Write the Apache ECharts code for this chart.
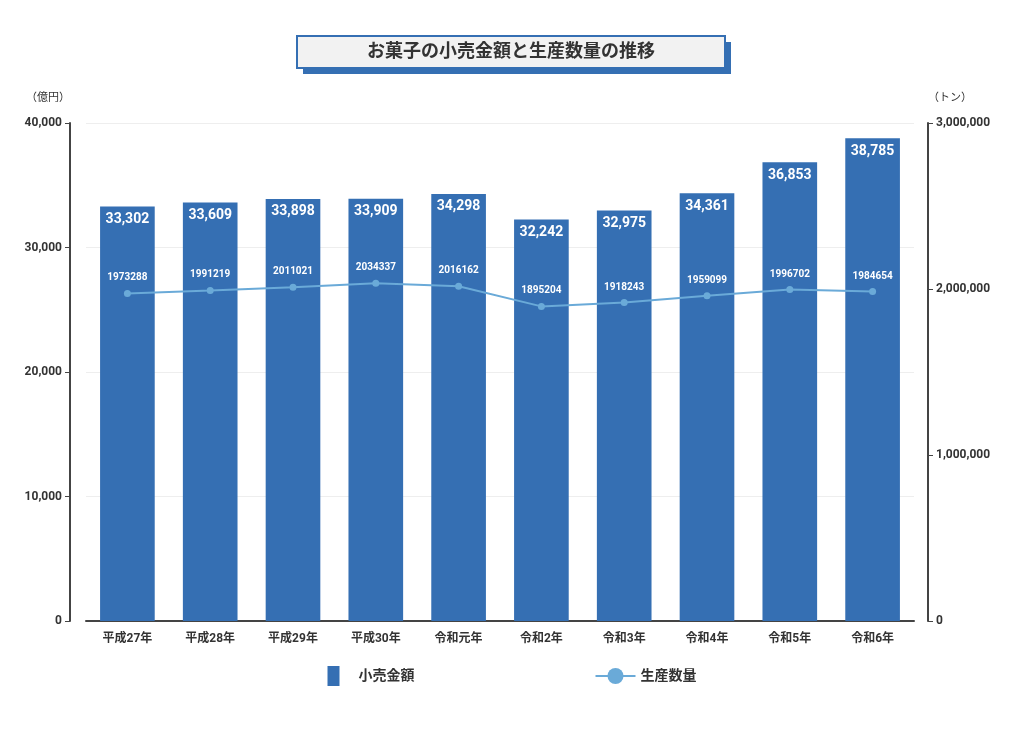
<!DOCTYPE html>
<html><head><meta charset="utf-8">
<script src="https://cdn.jsdelivr.net/npm/echarts@6/dist/echarts.min.js"></script>
<style>html,body{margin:0;background:#fff}#c{width:1024px;height:741px}</style>
</head><body><div id="c"></div>
<script>
var years = ['平成27年','平成28年','平成29年','平成30年','令和元年','令和2年','令和3年','令和4年','令和5年','令和6年'];
var sales = [33302,33609,33898,33909,34298,32242,32975,34361,36853,38785];
var production = [1973288,1991219,2011021,2034337,2016162,1895204,1918243,1959099,1996702,1984654];

var font = 'Roboto, "Noto Sans CJK JP", sans-serif';
var chart = echarts.init(document.getElementById('c'));
chart.setOption({
  textStyle: {fontFamily: font},
  graphic: [
    {type: 'rect', shape: {x: 303, y: 42, width: 428, height: 32}, style: {fill: '#356fb3'}},
    {type: 'rect', shape: {x: 297, y: 36, width: 428, height: 32}, style: {fill: '#f2f2f2', stroke: '#356fb3', lineWidth: 2}},
    {type: 'text', x: 511, y: 52, style: {text: 'お菓子の小売金額と生産数量の推移', fill: '#333', font: 'bold 18px ' + font, textAlign: 'center', textVerticalAlign: 'middle'}}
  ],
  grid: {left: 86, right: 110, top: 123, bottom: 120},
  legend: {
    bottom: 50, itemGap: 180, itemWidth: 40, itemHeight: 20,
    textStyle: {fontSize: 14, color: '#333', fontWeight: 'bold'},
    data: [{name: '小売金額', icon: 'path://M14,0H26V20H14Z'}, {name: '生産数量'}]
  },
  xAxis: {
    type: 'category', data: years,
    axisLine: {lineStyle: {color: '#444', width: 2}},
    axisTick: {show: false},
    axisLabel: {color: '#333', fontSize: 12, fontWeight: 'bold', margin: 12}
  },
  yAxis: [
    {type: 'value', min: 0, max: 40000, interval: 10000, name: '（億円）', offset: 16,
     nameTextStyle: {color: '#333', fontSize: 11, align: 'right', padding: [0, 0, 4, 0]},
     axisLine: {show: true, lineStyle: {color: '#444', width: 2}},
     axisTick: {show: true, length: 5},
     axisLabel: {color: '#333', fontWeight: 'bold', fontSize: 12, formatter: function (v) { return v.toLocaleString('en-US'); }},
     splitLine: {lineStyle: {color: '#eee'}}},
    {type: 'value', min: 0, max: 3000000, interval: 1000000, name: '（トン）', offset: 14,
     nameTextStyle: {color: '#333', fontSize: 11, align: 'left', padding: [0, 0, 4, 0]},
     axisLine: {show: true, lineStyle: {color: '#444', width: 2}},
     axisTick: {show: true, length: 5},
     axisLabel: {color: '#333', fontWeight: 'bold', fontSize: 12},
     splitLine: {show: false}}
  ],
  series: [
    {name: '小売金額', type: 'bar', data: sales, barWidth: '66%',
     itemStyle: {color: '#356fb3'},
     label: {show: true, position: 'insideTop', color: '#fff', fontWeight: 'bold', fontSize: 14, distance: 6,
             formatter: function (p) { return p.value.toLocaleString('en-US'); }}},
    {name: '生産数量', type: 'line', yAxisIndex: 1, data: production,
     color: '#6aaad8', symbol: 'circle', symbolSize: 7, lineStyle: {width: 2},
     label: {show: true, position: 'top', color: '#fff', fontWeight: 'bold', fontSize: 10, distance: 7}}
  ]
});
</script></body></html>
